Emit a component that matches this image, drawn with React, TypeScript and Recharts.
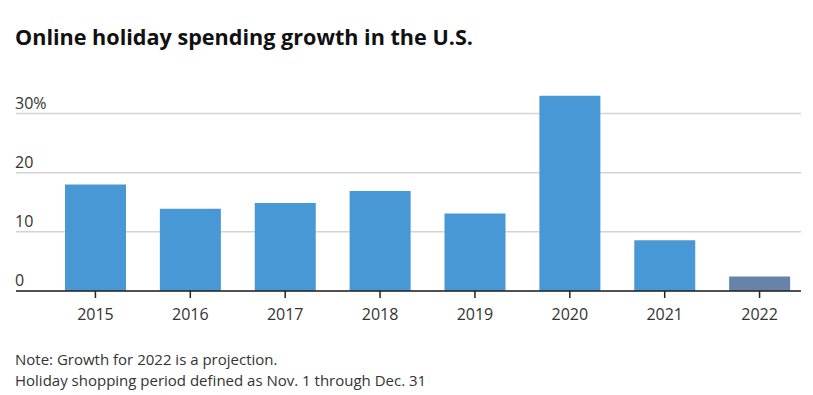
import React from "react";
import { BarChart, Bar, XAxis, YAxis, CartesianGrid, Cell } from "recharts";

const years = ["2015", "2016", "2017", "2018", "2019", "2020", "2021", "2022"];
const growth = [18, 13.9, 14.9, 16.9, 13.1, 33, 8.6, 2.45];
const projected = [false, false, false, false, false, false, false, true];
const yTicks = [0, 10, 20, 30];

const title = "Online holiday spending growth in the U.S.";
const notes = [
  "Note: Growth for 2022 is a projection.",
  "Holiday shopping period defined as Nov. 1 through Dec. 31",
];

const data = years.map((y, i) => ({ year: y, value: growth[i], projected: projected[i] }));

const FONT = "'Open Sans', 'Noto Sans', sans-serif";

const renderYTick = (props: any) => {
  const { y, payload } = props;
  const label = payload.value === 30 ? "30%" : String(payload.value);
  return (
    <text x={15} y={y - 5} textAnchor="start" fill="#333" fontSize={16} fontFamily={FONT}>
      {label}
    </text>
  );
};

export default function App() {
  return (
    <div style={{ position: "absolute", left: 0, top: 0, width: 813, height: 395, background: "#fff" }}>
      <BarChart
        width={813}
        height={395}
        data={data}
        margin={{ top: 84, right: 12, bottom: 74, left: 15 }}
      >
        <CartesianGrid vertical={false} horizontalValues={yTicks} stroke="#d4d4d4" strokeWidth={1.5} />
        <YAxis
          width={1}
          domain={[0, 35]}
          ticks={yTicks}
          axisLine={false}
          tickLine={false}
          tick={renderYTick}
          interval={0}
        />
        <XAxis
          dataKey="year"
          height={30}
          padding={{ left: 32, right: -6 }}
          axisLine={{ stroke: "#222", strokeWidth: 1.5 }}
          tickLine={{ stroke: "#222", strokeWidth: 1.5 }}
          tickSize={7}
          tickMargin={11}
          tick={{ fill: "#333", fontSize: 16, fontFamily: FONT }}
          interval={0}
        />
        <Bar dataKey="value" barSize={61} isAnimationActive={false}>
          {data.map((d, i) => (
            <Cell key={i} fill={d.projected ? "#6783a9" : "#4898d6"} />
          ))}
        </Bar>
      </BarChart>
      <svg
        width={813}
        height={395}
        style={{ position: "absolute", left: 0, top: 0, pointerEvents: "none" }}
      >
        <text x={15} y={45} fontSize={21.6} fontWeight={700} fill="#111" fontFamily={FONT}>
          {title}
        </text>
        <text x={15} y={365} fontSize={15} fill="#333" fontFamily={FONT}>
          {notes[0]}
        </text>
        <text x={15} y={386} fontSize={15} fill="#333" fontFamily={FONT}>
          {notes[1]}
        </text>
      </svg>
    </div>
  );
}
